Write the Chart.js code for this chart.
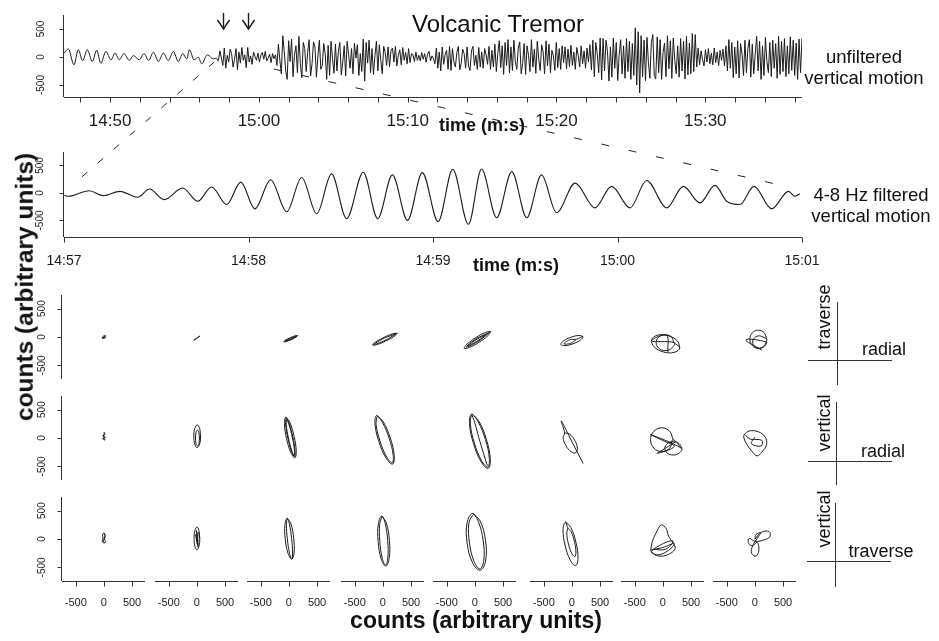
<!DOCTYPE html>
<html>
<head>
<meta charset="utf-8">
<script src="https://cdn.jsdelivr.net/npm/chart.js@4.4.1/dist/chart.umd.min.js"></script>
<style>
  body { margin: 0; background: #fff; }
  #page { position: relative; width: 939px; height: 641px; overflow: hidden; background: #fff;
          font-family: 'Liberation Sans', Arial, sans-serif; color: #111; }
  #page canvas { position: absolute; }
  .t { position: absolute; white-space: nowrap; line-height: 1; transform: translate(-50%, -50%); }
  .b { font-weight: bold; }
  .rot { transform: translate(-50%, -50%) rotate(-90deg); }
  .ln { position: absolute; background: #333; }
</style>
</head>
<body>
<div id="page">
  <canvas id="links" width="939" height="641" style="left:0;top:0"></canvas>
  <canvas id="top" width="939" height="140" style="left:0;top:0"></canvas>
  <canvas id="mid" width="939" height="140" style="left:0;top:140px"></canvas>

  <div class="t" style="left:498px;top:24px;font-size:24px">Volcanic Tremor</div>
  <div class="t" style="left:864px;top:57px;font-size:18.5px">unfiltered</div>
  <div class="t" style="left:864px;top:78px;font-size:18.5px">vertical motion</div>
  <div class="t b" style="left:482px;top:125px;font-size:18px">time (m:s)</div>
  <div class="t" style="left:871px;top:195px;font-size:18.5px">4-8 Hz filtered</div>
  <div class="t" style="left:871px;top:216px;font-size:18.5px">vertical motion</div>
  <div class="t b" style="left:516px;top:265px;font-size:18px">time (m:s)</div>
  <div class="t b rot" style="left:25px;top:287px;font-size:24.5px">counts (arbitrary units)</div>
  <div class="t b" style="left:476px;top:620px;font-size:23px">counts (arbitrary units)</div>

  <div class="ln" style="left:837px;top:302px;width:1px;height:83px"></div>
  <div class="ln" style="left:808px;top:360px;width:84px;height:1px"></div>
  <div class="t rot" style="left:824px;top:317px;font-size:18px">traverse</div>
  <div class="t" style="left:884px;top:349px;font-size:18px">radial</div>

  <div class="ln" style="left:836px;top:402px;width:1px;height:83px"></div>
  <div class="ln" style="left:808px;top:461px;width:84px;height:1px"></div>
  <div class="t rot" style="left:824px;top:423px;font-size:18px">vertical</div>
  <div class="t" style="left:883px;top:451px;font-size:18px">radial</div>

  <div class="ln" style="left:835px;top:503px;width:1px;height:84px"></div>
  <div class="ln" style="left:807px;top:561px;width:84px;height:1px"></div>
  <div class="t rot" style="left:824px;top:519px;font-size:18px">vertical</div>
  <div class="t" style="left:881px;top:551px;font-size:18px">traverse</div>
</div>
<script>
// ---- top trace: unfiltered vertical motion (time in s after 14:00, counts) ----
const quietTimes = [46.92, 47.19, 47.57, 47.86, 48.15, 48.47, 48.80, 49.10, 49.37, 49.72, 50.06, 50.33,
  50.62, 50.93, 51.29, 51.56, 51.96, 52.28, 52.59, 52.91, 53.24, 53.58, 53.91, 54.25, 54.58, 54.88,
  55.15, 55.33, 55.64, 55.93, 56.15, 56.54, 56.94, 57.12, 57.28];
const quietCounts = [70, 145, -140, 130, -65, 130, -80, 120, -110, 100, -50, 70, -50, 60, -60, 25, -50,
  60, -60, 85, -80, 70, -65, 100, -80, 60, -35, 130, -50, -5, -120, 40, -35, -20, -80];
const tremorStart = 57.28;
const tremorEnd = 96.5;
const tremorCounts = [
  -60, 110, -20, -150, 160, -200, 30, -90, 140, 60, -180, -40, 150, -225, 90, -110, 170, -60, 40, -190,
  170, -90, 20, -130, 90, 10, -60, 70, -90, 30, 80, -40, 100, -70, -20, 50, -100, 60, -30, 40,
  -150, 230, -60, -300, 380, 100, -250, -400, 290, -80, 320, -350, 40, 200, -280, 370, -120, -370, 260, 150,
  -260, 80, 310, -340, -120, 270, 180, -360, 20, 300, -220, -150, 240, 60, -400, 210, -330, 280, -30, -290,
  230, -250, 100, 260, -320, -90, 200, -340, 280, 40, -200, 150, -300, 250, -20, 220, -330, 60, -260, 320,
  -430, 260, -110, 300, -280, 150, -310, 20, 280, -250, 220, -60, -300, 190, 80, -150, 180, -170, 120, 160,
  -90, 190, -160, 30, 130, -140, 170, -60, 80, -120, 150, -100, 60, 40, -80, 90, -60, 30, -70, 80,
  -40, 60, -90, 50, 100, -70, 20, -30, -120, 160, -200, 90, -250, 180, -130, 40, 120, -220, 190, -240,
  150, -90, -180, 80, 190, -230, -110, 140, 60, -200, 180, -160, -240, 110, 190, -150, 30, -220, 170, -180,
  90, -200, 150, 40, -130, 190, -220, 120, -180, 230, -260, 60, 290, -190, 200, -310, 260, -150, 310, -280,
  180, -240, 300, -80, -220, 160, 270, -300, -120, 240, -310, 200, 30, -260, 310, -180, 140, -290, 280, -40,
  -240, 220, 90, -300, 290, -160, 230, -280, 120, 20, -240, 260, -190, 150, -220, 200, -100, 180, -210, 140,
  -170, 210, -150, 90, -220, 170, 30, -180, 200, -120, 110, -200, 160, -90, 220, -230, 300, -350, 260, 60,
  -280, 340, -410, 330, -250, 300, 100, -430, 180, -360, 340, -200, 260, -420, 40, 310, -300, 200, -380, 330,
  -260, 280, -400, 240, -330, 520, -500, 450, -640, 380, -350, 300, -420, 350, -100, -380, 260, 400, -330, -390,
  360, -280, 310, -400, 80, 250, -350, 380, -210, 290, -380, 340, -60, -300, 200, -360, 330, -250, 280, -390,
  370, -320, 250, -300, 420, -260, 400, -180, 160, -140, 110, -40, -160, 130, -90, 150, -120, 70, -140, 160,
  -100, 90, -150, 120, -60, 140, -160, 200, -250, 310, -200, 260, -370, 180, -300, 290, -375, 240, 50, -330,
  300, -280, 150, 310, -360, 230, -300, 40, 370, -250, 280, -400, 200, -330, 350, -80, -280, 260, -350, 300,
  -200, 240, -380, 370, -310, 280, -260, 330, -350, 200, -300, 360, -240, 300, -330, 250, -400, 320, -280, 340
];
const topTicks = [48, 50, 52, 54, 56, 58, 60, 62, 64, 66, 68, 70, 72, 74, 76, 78, 80, 82, 84, 86, 88, 90, 92, 94, 96];
const topLabelAt = [50, 60, 70, 80, 90];
const topLabels = ['14:50', '15:00', '15:10', '15:20', '15:30'];
const arrowTimes = [57.6, 59.3];

// ---- middle trace: 4-8 Hz filtered (s after 14:57, counts) ----
const filtTimes = [0.002, 0.023, 0.137, 0.213, 0.303, 0.400, 0.463, 0.543, 0.643, 0.725, 0.800, 0.882,
  0.958, 1.035, 1.120, 1.207, 1.288, 1.370, 1.450, 1.532, 1.622, 1.700, 1.780, 1.862, 1.942, 2.028,
  2.107, 2.192, 2.263, 2.345, 2.427, 2.508, 2.588, 2.670, 2.770, 2.878, 2.968, 3.068, 3.158, 3.267,
  3.357, 3.447, 3.528, 3.592, 3.663, 3.740, 3.835, 3.927, 3.962, 3.988];
const filtCounts = [-42, -60, 42, -48, 30, -78, 72, -120, 90, -150, 108, -210, 198, -288, 240, -341,
  282, -377, 347, -467, 377, -467, 330, -497, 371, -521, 431, -569, 437, -449, 389, -449, 329, -359,
  180, -270, 120, -270, 228, -270, 120, -180, 138, -150, -210, 120, -288, 30, -60, -12];
const midTicks = [0, 1, 2, 3, 4];
const midLabels = ['14:57', '14:58', '14:59', '15:00', '15:01'];

const countTicks = [-500, 0, 500];
const countLabels = ['-500', '0', '500'];

// ---- particle motion, one list of [x, y] per window ----
const traverseRadial = [
  [[-30, -20], [20, 10], [30, 25], [-10, 15], [-30, -15], [10, -25], [30, 5], [-30, -20]],
  [[-55, -55], [-10, -25], [50, 15], [20, -5], [-30, -45], [-55, -55]],
  [[154, 25], [112, 22], [24, -12], [-60, -56], [-90, -85], [-48, -82], [40, -48], [124, -4], [154, 25],
   [130, 10], [30, -22], [-80, -78], [-60, -70], [40, -35], [140, 15]],
  [[253, 65], [178, 58], [20, -6], [-130, -88], [-183, -141], [-108, -134], [50, -70], [200, 12], [253, 65],
   [231, 55], [26, -20], [-161, -131], [44, -56], [231, 55]],
  [[280, 95], [192, 82], [18, -10], [-140, -126], [-190, -199], [-102, -186], [72, -94], [230, 22], [280, 95],
   [245, 73], [29, -27], [-155, -177], [61, -77], [245, 73], [215, 53], [37, -39], [-125, -157], [53, -65], [215, 53]],
  [[195, 8], [124, 27], [-20, -5], [-152, -71], [-195, -132], [-124, -151], [20, -119], [152, -53], [195, 8],
   [80, -40], [-40, -50], [-140, -120], [-20, -110], [80, -40]],
  [[300, -190], [255, -67], [90, 24], [-99, 31], [-200, -50], [-155, -173], [10, -264], [199, -271], [300, -190],
   [200, -100], [153, -1], [40, 40], [-73, -1], [-120, -100], [-73, -199], [40, -240], [153, -199], [200, -100],
   [-200, -70], [60, 30], [90, -270]],
  [[210, -40], [166, 73], [60, 120], [-46, 73], [-90, -40], [-46, -153], [60, -200], [166, -153], [210, -40],
   [165, -12], [80, 20], [-5, -12], [-40, -90], [-5, -168], [80, -200], [165, -168], [200, -90], [-160, -50], [120, -230]]
];
const verticalRadial = [
  [[0, 100], [20, 60], [-20, 40], [30, 10], [-25, -10], [20, -35], [-10, 30], [10, 90], [0, 100]],
  [[65, 30], [47, 171], [5, 230], [-37, 171], [-55, 30], [-37, -111], [5, -170], [47, -111], [65, 30],
   [45, 0], [35, 99], [10, 140], [-15, 99], [-25, 0], [-15, -99], [10, -140], [35, -99], [45, 0]],
  [[-55, 370], [16, 276], [93, 25], [130, -234], [105, -350], [34, -256], [-43, -5], [-80, 254], [-55, 370],
   [4, 254], [69, 20], [108, -220], [99, -325], [46, -234], [-19, 0], [-58, 240], [-49, 345],
   [0, 241], [59, 17], [98, -211], [95, -310], [50, -221], [-9, 3], [-48, 231], [-45, 330]],
  [[-112, 395], [1, 293], [130, 1], [201, -311], [172, -459], [59, -357], [-70, -65], [-141, 247], [-112, 395],
   [-8, 273], [110, -6], [182, -301], [165, -438], [68, -337], [-50, -58], [-122, 237], [-105, 374]],
  [[-59, 420], [65, 305], [203, -23], [273, -371], [235, -536], [111, -421], [-27, -93], [-97, 255], [-59, 420],
   [58, 284], [186, -28], [256, -358], [228, -512], [118, -400], [-10, -88], [-80, 242], [-52, 396],
   [88, -58], [220, -490]],
  [[-130, 90], [-45, 71], [49, -40], [97, -177], [70, -260], [-15, -241], [-109, -130], [-157, 7], [-130, 90],
   [-190, 300], [5, -75], [200, -450]],
  [[180, -30], [121, 118], [-20, 180], [-161, 118], [-220, -30], [-161, -178], [-20, -240], [121, -178], [180, -30],
   [333, -183], [289, -100], [183, -65], [77, -100], [33, -183], [77, -266], [183, -300], [289, -266], [333, -183],
   [-220, 60], [0, -45], [200, -150], [-100, -270], [60, -170], [220, -70]],
  [[-190, 60], [-100, 124], [60, 110], [180, 20], [206, -120], [120, -250], [40, -315], [-40, -250], [-150, -100],
   [-195, 0], [-190, 60], [-80, -20], [120, -40], [110, -140], [-60, -100], [0, 20]]
];
const verticalTraverse = [
  [[0, 106], [25, 60], [10, 0], [30, -50], [0, -70], [-30, -40], [-15, 20], [-25, 70], [0, 106], [15, 40], [-10, -30], [5, -60]],
  [[50, 10], [35, 151], [0, 210], [-35, 151], [-50, 10], [-35, -131], [0, -190], [35, -131], [50, 10],
   [20, 120], [10, -100], [-20, 80], [25, -150], [-10, 150], [15, -40]],
  [[-30, 365], [35, 266], [85, 13], [91, -244], [50, -355], [-15, -256], [-65, -3], [-71, 254], [-30, 365],
   [9, 263], [48, 9], [65, -247], [50, -355], [11, -253], [-28, 1], [-45, 257], [-30, 365]],
  [[-20, 405], [61, 282], [115, -27], [111, -340], [50, -475], [-31, -352], [-85, -43], [-81, 270], [-20, 405],
   [41, 269], [85, -29], [87, -331], [48, -460], [-11, -339], [-55, -41], [-57, 261], [-18, 390]],
  [[-45, 450], [91, 320], [188, -27], [189, -388], [95, -550], [-41, -420], [-138, -73], [-139, 288], [-45, 450],
   [64, 298], [147, -33], [158, -374], [91, -525], [-14, -398], [-97, -67], [-108, 274], [-41, 425]],
  [[-115, 300], [-20, 203], [72, -62], [108, -341], [65, -470], [-30, -373], [-122, -108], [-158, 171], [-115, 300],
   [-70, 190], [-13, 126], [45, -47], [71, -228], [50, -310], [-7, -246], [-65, -73], [-91, 108], [-70, 190]],
  [[-218, -200], [-190, -50], [-100, 150], [-30, 247], [60, 180], [100, 50], [200, -100], [212, -180], [100, -270],
   [-80, -300], [-200, -230], [-218, -200], [0, -150], [200, -80], [100, -200], [-100, -280], [-200, -220],
   [50, -60], [180, -40], [50, -180], [-180, -180]],
  [[0, 0], [120, 120], [250, 130], [265, 40], [150, -20], [0, -40], [-100, 10], [-118, -60], [-50, -120], [40, -60],
   [70, -200], [20, -300], [-60, -250], [-40, -120], [60, 40], [100, 110], [20, 80], [0, 0]]
];

// ---- layout ----
const ink = '#1b1b1b';
const fontFam = "'Liberation Sans', Arial, sans-serif";
const colZero = [104, 197, 289, 383, 475, 572, 663, 755];
const rowZero = [337, 438, 539];

// R-style axes drawn from the chart's own scales
function axesPlugin(cfg) {
  return {
    id: 'rAxes',
    afterDraw(chart) {
      const { ctx, chartArea: a } = chart;
      const xs = chart.scales.x, ys = chart.scales.y;
      const seg = (x1, y1, x2, y2) => { ctx.beginPath(); ctx.moveTo(x1, y1); ctx.lineTo(x2, y2); ctx.stroke(); };
      ctx.save();
      ctx.strokeStyle = '#333';
      ctx.fillStyle = ink;
      ctx.lineWidth = 1;
      if (cfg.x) {
        const yb = Math.round(a.bottom) + 0.5;
        seg(a.left, yb, a.right, yb);
        cfg.x.ticks.forEach(v => {
          const px = Math.round(xs.getPixelForValue(v)) + 0.5;
          seg(px, yb, px, yb + 5);
        });
        ctx.font = cfg.x.font;
        ctx.textAlign = 'center';
        ctx.textBaseline = 'middle';
        cfg.x.labels.forEach((txt, i) => ctx.fillText(txt, xs.getPixelForValue(cfg.x.at[i]), a.bottom + cfg.x.gap));
      }
      if (cfg.y) {
        const xl = Math.round(a.left) - 0.5;
        seg(xl, a.top, xl, a.bottom);
        cfg.y.ticks.forEach(v => {
          const py = Math.round(ys.getPixelForValue(v)) + 0.5;
          seg(xl - 4, py, xl, py);
        });
        ctx.font = '10px ' + fontFam;
        ctx.textAlign = 'center';
        ctx.textBaseline = 'middle';
        cfg.y.labels.forEach((txt, i) => {
          ctx.save();
          ctx.translate(a.left - cfg.y.gap, ys.getPixelForValue(cfg.y.ticks[i]));
          ctx.rotate(-Math.PI / 2);
          ctx.fillText(txt, 0, 0);
          ctx.restore();
        });
      }
      if (cfg.arrows) {
        ctx.lineWidth = 1.4;
        ctx.strokeStyle = ink;
        cfg.arrows.forEach(t => {
          const px = Math.round(xs.getPixelForValue(t)) + 0.5;
          seg(px, 13, px, 29);
          ctx.beginPath(); ctx.moveTo(px - 6, 20); ctx.lineTo(px, 29); ctx.lineTo(px + 6, 20); ctx.stroke();
        });
      }
      ctx.restore();
    }
  };
}

const base = {
  responsive: false, animation: false, devicePixelRatio: 1, events: [],
  plugins: { legend: { display: false }, tooltip: { enabled: false } }
};

const tremorStep = (tremorEnd - tremorStart) / (tremorCounts.length - 1);
const topChart = new Chart(document.getElementById('top'), {
  type: 'line',
  data: { datasets: [
    { data: quietTimes.map((t, i) => ({ x: t, y: quietCounts[i] })), cubicInterpolationMode: 'monotone',
      borderColor: ink, borderWidth: 1, pointRadius: 0 },
    { data: tremorCounts.map((v, i) => ({ x: tremorStart + i * tremorStep, y: v })), tension: 0,
      borderColor: ink, borderWidth: 1, pointRadius: 0 }
  ]},
  options: Object.assign({}, base, {
    layout: { padding: { left: 64, right: 137, top: 15, bottom: 43 } },
    scales: { x: { type: 'linear', min: 46.9, max: 96.5, display: false }, y: { min: -714, max: 750, display: false } }
  }),
  plugins: [axesPlugin({
    x: { ticks: topTicks, at: topLabelAt, labels: topLabels, font: '17px ' + fontFam, gap: 24 },
    y: { ticks: countTicks, labels: countLabels, gap: 23 },
    arrows: arrowTimes
  })]
});

const midChart = new Chart(document.getElementById('mid'), {
  type: 'line',
  data: { datasets: [
    { data: filtTimes.map((t, i) => ({ x: t, y: filtCounts[i] })), cubicInterpolationMode: 'monotone',
      borderColor: ink, borderWidth: 1.1, pointRadius: 0 }
  ]},
  options: Object.assign({}, base, {
    layout: { padding: { left: 64, right: 137, top: 12, bottom: 43 } },
    scales: { x: { type: 'linear', min: 0, max: 4, display: false }, y: { min: -800, max: 745, display: false } }
  }),
  plugins: [axesPlugin({
    x: { ticks: midTicks, at: midTicks, labels: midLabels, font: '14px ' + fontFam, gap: 24 },
    y: { ticks: countTicks, labels: countLabels, gap: 24 }
  })]
});

// particle motion grid
const page = document.getElementById('page');
[traverseRadial, verticalRadial, verticalTraverse].forEach((row, r) => row.forEach((pts, c) => {
  const cv = document.createElement('canvas');
  cv.width = 124; cv.height = 122;
  cv.style.left = (colZero[c] - 42 - 35) + 'px';
  cv.style.top = (rowZero[r] - 42 - 6) + 'px';
  page.appendChild(cv);
  new Chart(cv, {
    type: 'scatter',
    data: { datasets: [{ data: pts.map(p => ({ x: p[0], y: p[1] })), showLine: true, tension: 0.4,
      borderColor: ink, borderWidth: 1, pointRadius: 0 }] },
    options: Object.assign({}, base, {
      layout: { padding: { left: 35, right: 6, top: 6, bottom: 32 } },
      scales: { x: { type: 'linear', min: -745, max: 730, display: false }, y: { min: -740, max: 740, display: false } }
    }),
    plugins: [axesPlugin({
      x: r === 2 ? { ticks: countTicks, at: countTicks, labels: countLabels, font: '11px ' + fontFam, gap: 22 } : null,
      y: c === 0 ? { ticks: countTicks, labels: countLabels, gap: 20 } : null
    })]
  });
}));

// dashed zoom connectors between the two traces
const zoomLinks = [
  { from: [57, -90], to: [0.07, 214], dash: [7, 14] },
  { from: [61, -214], to: [3.93, 107], dash: [8, 20] }
];
const lk = document.getElementById('links').getContext('2d');
lk.strokeStyle = '#222';
lk.lineWidth = 1;
zoomLinks.forEach(l => {
  lk.setLineDash(l.dash);
  lk.beginPath();
  lk.moveTo(topChart.scales.x.getPixelForValue(l.from[0]), topChart.scales.y.getPixelForValue(l.from[1]));
  lk.lineTo(midChart.scales.x.getPixelForValue(l.to[0]), midChart.scales.y.getPixelForValue(l.to[1]) + 140);
  lk.stroke();
});
</script>
</body>
</html>
